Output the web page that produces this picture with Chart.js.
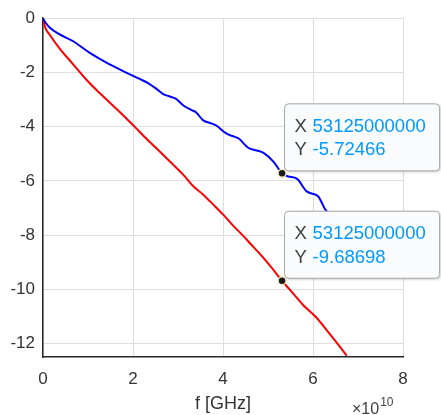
<!DOCTYPE html>
<html>
<head>
<meta charset="utf-8">
<title>Insertion loss</title>
<script src="https://cdn.jsdelivr.net/npm/chart.js@4.4.1/dist/chart.umd.min.js"></script>
<style>
    body { margin: 0; background: #fff; }
    canvas { display: block; }
</style>
</head>
<body>
<canvas id="chart" width="441" height="415"></canvas>
<script>
// frequencies are in units of 1e10 Hz (axis shows x10^10)
var freqBlue = [0, 0.05, 0.16, 0.35, 0.67, 1.04, 1.41, 1.78, 2.16, 2.35, 2.50, 2.67, 2.80, 2.95, 3.12, 3.30, 3.40, 3.56, 3.74, 3.84, 4.08, 4.25, 4.35, 4.56, 4.75, 4.90, 5.12, 5.3125, 5.45, 5.64, 5.86, 6.04, 6.12, 6.30, 6.50, 6.75];
var lossBlue = [0, -0.15, -0.36, -0.58, -0.85, -1.28, -1.64, -1.95, -2.25, -2.41, -2.58, -2.80, -2.88, -2.97, -3.22, -3.39, -3.47, -3.77, -3.88, -3.95, -4.26, -4.37, -4.44, -4.78, -4.88, -4.97, -5.29, -5.72466, -5.84, -5.92, -6.39, -6.50, -6.58, -7.12, -7.25, -7.70];

var freqRed = [0, 0.04, 0.16, 0.38, 0.67, 0.97, 1.27, 1.70, 2.04, 2.30, 2.60, 2.82, 3.12, 3.34, 3.56, 3.78, 4.00, 4.23, 4.45, 4.62, 4.80, 5.04, 5.3125, 5.56, 5.78, 6.08, 6.30, 6.53, 6.75];
var lossRed = [0, -0.30, -0.64, -1.14, -1.70, -2.28, -2.78, -3.45, -4.01, -4.45, -4.93, -5.29, -5.78, -6.20, -6.51, -6.87, -7.24, -7.66, -8.03, -8.34, -8.66, -9.12, -9.68698, -10.16, -10.58, -11.05, -11.50, -11.98, -12.45];

// data tips
var tipFreq = [5.3125, 5.3125];
var tipLoss = [-5.72466, -9.68698];

var xTicks = [0, 2, 4, 6, 8];
var yTicks = [0, -2, -4, -6, -8, -10, -12];

var fontFamily = '"Liberation Sans", Arial, sans-serif';

function toPoints(xs, ys) {
    var pts = [];
    for (var i = 0; i < xs.length; i++) {
        pts.push({x: xs[i], y: ys[i]});
    }
    return pts;
}

function roundBox(ctx, x, y, w, h, r) {
    ctx.beginPath();
    ctx.moveTo(x + r, y);
    ctx.lineTo(x + w - r, y);
    ctx.arcTo(x + w, y, x + w, y + r, r);
    ctx.lineTo(x + w, y + h - r);
    ctx.arcTo(x + w, y + h, x + w - r, y + h, r);
    ctx.lineTo(x + r, y + h);
    ctx.arcTo(x, y + h, x, y + h - r, r);
    ctx.lineTo(x, y + r);
    ctx.arcTo(x, y, x + r, y, r);
    ctx.closePath();
}

// MATLAB-like data tip boxes, drawn after the lines but under the markers
var dataTips = {
    id: 'dataTips',
    afterDatasetDraw: function (chart, args) {
        if (args.index !== 1) return;
        var ctx = chart.ctx;
        var sx = chart.scales.x;
        var sy = chart.scales.y;
        for (var i = 0; i < tipFreq.length; i++) {
            var px = sx.getPixelForValue(tipFreq[i]);
            var py = sy.getPixelForValue(tipLoss[i]);
            var left = px + 2.5;
            var top = py - 69.5;
            ctx.save();
            ctx.shadowColor = 'rgba(0,0,0,0.25)';
            ctx.shadowBlur = 3;
            ctx.shadowOffsetX = 1;
            ctx.shadowOffsetY = 1;
            roundBox(ctx, left, top, 155, 67, 4);
            ctx.fillStyle = '#fafbfd';
            ctx.fill();
            ctx.shadowColor = 'transparent';
            ctx.strokeStyle = '#a9a9a9';
            ctx.lineWidth = 1;
            ctx.stroke();

            ctx.font = '18.5px ' + fontFamily;
            ctx.textBaseline = 'middle';
            ctx.textAlign = 'left';
            ctx.fillStyle = '#404040';
            ctx.fillText('X', left + 10, top + 23);
            ctx.fillText('Y', left + 10, top + 46.5);
            ctx.fillStyle = '#0099ff';
            ctx.fillText(String(tipFreq[i] * 1e10), left + 28, top + 23);
            ctx.fillText(String(tipLoss[i]), left + 28, top + 46.5);
            ctx.restore();
        }
    },
    afterDraw: function (chart) {
        // exponent note under the x axis
        var ctx = chart.ctx;
        ctx.save();
        ctx.fillStyle = '#404040';
        ctx.textBaseline = 'alphabetic';
        ctx.textAlign = 'left';
        ctx.font = '16px ' + fontFamily;
        ctx.fillText('\u00d710', 352, 414);
        var w = ctx.measureText('\u00d710').width;
        ctx.font = '12px ' + fontFamily;
        ctx.fillText('10', 352 + w + 1, 406);
        ctx.restore();
    }
};

new Chart(document.getElementById('chart').getContext('2d'), {
    type: 'scatter',
    data: {
        datasets: [
            {
                label: 'tips',
                data: toPoints(tipFreq, tipLoss),
                showLine: false,
                pointRadius: 4,
                pointBackgroundColor: '#1a1a1a',
                pointBorderColor: '#f2ecc4',
                pointBorderWidth: 1.5
            },
            {
                label: 'blue',
                data: toPoints(freqBlue, lossBlue),
                showLine: true,
                borderColor: '#0000ff',
                borderWidth: 2,
                pointRadius: 0,
                cubicInterpolationMode: 'monotone'
            },
            {
                label: 'red',
                data: toPoints(freqRed, lossRed),
                showLine: true,
                borderColor: '#ff0000',
                borderWidth: 2,
                pointRadius: 0,
                cubicInterpolationMode: 'monotone'
            }
        ]
    },
    options: {
        responsive: false,
        animation: false,
        events: [],
        layout: {
            padding: {top: 15, right: 38, left: 0, bottom: 0}
        },
        plugins: {
            legend: {display: false},
            tooltip: {enabled: false}
        },
        scales: {
            x: {
                type: 'linear',
                min: 0,
                max: 8,
                afterFit: function (scale) { scale.height = 58; },
                afterBuildTicks: function (scale) {
                    scale.ticks = xTicks.map(function (v) { return {value: v}; });
                },
                grid: {color: '#dedede', drawTicks: false},
                border: {color: '#262626', width: 1.5},
                ticks: {
                    color: '#333333',
                    padding: 12,
                    maxRotation: 0,
                    font: {family: fontFamily, size: 17}
                },
                title: {
                    display: true,
                    text: 'f [GHz]',
                    color: '#333333',
                    padding: {top: 0, bottom: 0},
                    font: {family: fontFamily, size: 18, lineHeight: 1.2}
                }
            },
            y: {
                type: 'linear',
                min: -12.5,
                max: 0,
                afterFit: function (scale) { scale.width = 43; },
                afterBuildTicks: function (scale) {
                    scale.ticks = yTicks.map(function (v) { return {value: v}; });
                },
                grid: {color: '#dedede', drawTicks: false},
                border: {color: '#262626', width: 1.5},
                ticks: {
                    color: '#333333',
                    padding: 8,
                    font: {family: fontFamily, size: 17}
                }
            }
        }
    },
    plugins: [dataTips]
});
</script>
</body>
</html>
